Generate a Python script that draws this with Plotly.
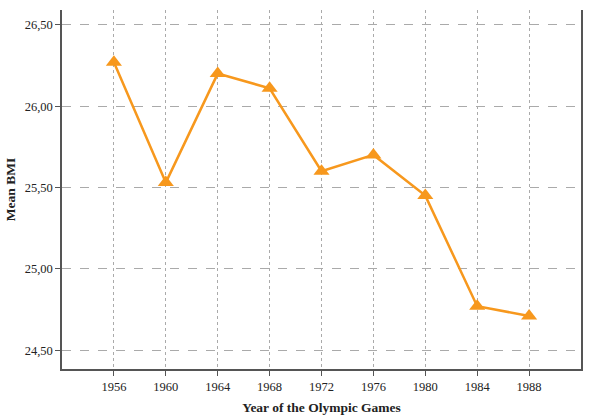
import plotly.graph_objects as go

years = [1956, 1960, 1964, 1968, 1972, 1976, 1980, 1984, 1988]
mean_bmi = [26.27, 25.53, 26.20, 26.11, 25.60, 25.70, 25.45, 24.77, 24.71]
y_ticks = [24.5, 25.0, 25.5, 26.0, 26.5]
y_tick_labels = ["24,50", "25,00", "25,50", "26,00", "26,50"]

orange = "#F7981D"
font_family = "Liberation Serif, DejaVu Serif, serif"

fig = go.Figure()
fig.add_trace(go.Scatter(
    x=years, y=mean_bmi, mode="lines+markers",
    line=dict(color=orange, width=2.5),
    marker=dict(symbol="triangle-up", size=14, color=orange),
    showlegend=False,
))

fig.update_layout(
    width=590, height=420,
    margin=dict(l=62, r=7, t=10, b=46),
    paper_bgcolor="white", plot_bgcolor="white",
    font=dict(family=font_family, size=12.5, color="#222"),
)
fig.update_xaxes(
    range=[1952, 1992], tickvals=years, ticktext=[str(y) for y in years],
    showline=True, linecolor="#555", linewidth=1.5, mirror=False,
    ticks="outside", ticklen=5, tickcolor="#555",
    showgrid=True, gridcolor="#aaa", griddash="dot", gridwidth=1,
    zeroline=False,
    title=dict(text="<b>Year of the Olympic Games</b>", font=dict(size=13.5), standoff=10),
)
fig.update_yaxes(
    range=[24.384, 26.591], tickvals=y_ticks, ticktext=y_tick_labels,
    showline=True, linecolor="#555", linewidth=1.5, mirror=True,
    ticks="outside", ticklen=5, tickcolor="#555",
    showgrid=True, gridcolor="#aaa", griddash="dash", gridwidth=1,
    zeroline=False,
    title=dict(text="<b>Mean BMI</b>", font=dict(size=13.5), standoff=6),
)

fig.write_html("out.html")
